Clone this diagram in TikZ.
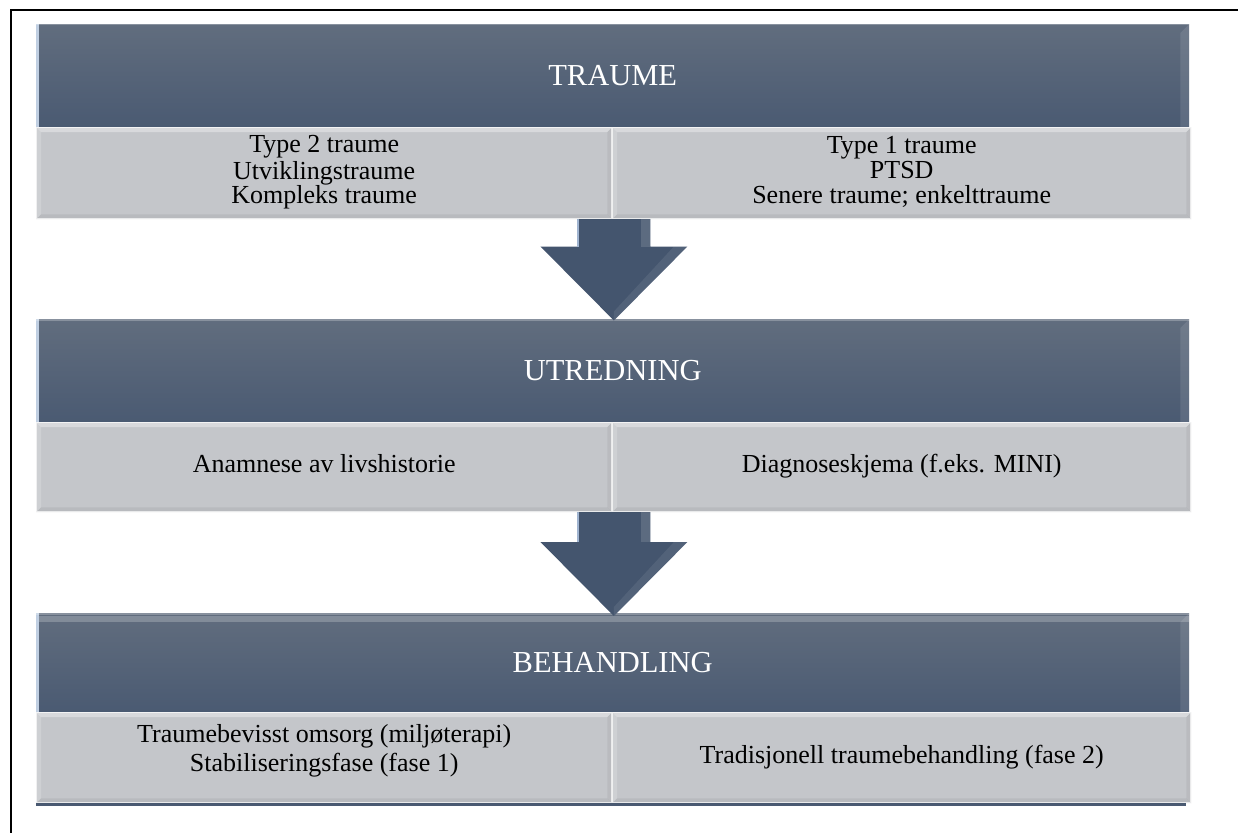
\documentclass[tikz,border=0pt]{standalone}
\usepackage{fontspec}
\setmainfont{Liberation Serif}
\usetikzlibrary{calc}
\pgfdeclarelayer{back}
\pgfdeclarelayer{mid}
\pgfsetlayers{back,mid,main}

\definecolor{barTop}{RGB}{97,109,126}
\definecolor{barBot}{RGB}{74,90,114}
\definecolor{barEdge}{RGB}{192,207,226}
\definecolor{cellFill}{RGB}{196,198,202}
\definecolor{arrowFill}{RGB}{68,85,110}
\definecolor{arrowEdge}{RGB}{160,180,208}

% block arrow from a start point (hidden under the cells) down to a tip
\newcommand\blockarrow[2]{%
  \fill[arrowFill] ($(#1)+(-36.5,0)$) -- ($(#2)+(-36.5,74)$) -- ($(#2)+(-73.5,74)$)
    -- (#2) -- ($(#2)+(73.5,74)$) -- ($(#2)+(36.5,74)$) -- ($(#1)+(36.5,0)$) -- cycle;
  \fill[arrowEdge] ($(#1)+(-36.5,0)$) rectangle ($(#2)+(-35,74)$);
  \fill[white,opacity=.13] ($(#1)+(36.5,0)$) rectangle ($(#2)+(27,74)$);
  \fill[white,opacity=.08] ($(#2)+(73.5,74)$) -- (#2) -- ($(#2)+(0,9)$) -- ($(#2)+(60,74)$) -- cycle;
}

\begin{document}
\begin{tikzpicture}[x=1pt,y=1pt,
  bar/.style={anchor=north west, minimum width=1153pt, inner sep=0pt,
    top color=barTop, bottom color=barBot, text=white,
    font=\fontsize{30.5}{33}\selectfont},
  cell/.style={anchor=north west, inner sep=0pt, fill=cellFill, align=center,
    font=\fontsize{26}{24.5}\selectfont},
  celltext/.style={inner sep=0pt, align=center, font=\fontsize{26}{29}\selectfont},
]
\useasboundingbox (0,0) rectangle (1238,-832);

% page frame
\draw[line width=2.6pt] (11,-10) rectangle (1270,-870);

% dark title bars
\begin{pgfonlayer}{back}
  \node[bar, minimum height=103pt] (b1) at (36,-24) {TRAUME};
  \node[bar, minimum height=103pt] (b2) at (36,-319) {UTREDNING};
  \node[bar, minimum height=99pt] (b3) at (36,-613) {BEHANDLING};
  \foreach \n in {b1,b2,b3}{
    \fill[barEdge] (\n.north west) rectangle ($(\n.south west)+(2.5,0)$);
    \fill[white,opacity=.10] (\n.north east) -- (\n.south east)
      -- ($(\n.south east)+(-9,0)$) -- ($(\n.north east)+(-9,-9)$) -- cycle;
    \fill[white,opacity=.25] (\n.north west) rectangle ($(\n.north east)+(0,-1.5)$);
  }
  \fill[white,opacity=.22] ($(b3.north west)+(2.5,-3)$) rectangle ($(b3.north east)+(0,-9)$);
\end{pgfonlayer}

% detail cells
\node[cell, minimum width=576pt, minimum height=92pt] (c1L) at (36,-127)
  {\strut Type 2 traume\\Utviklingstraume\\Kompleks traume\strut};
\node[cell, minimum width=579pt, minimum height=92pt] (c1R) at (612,-127)
  {\strut Type 1 traume\\PTSD\\Senere traume; enkelttraume\strut};
\node[cell, minimum width=576pt, minimum height=90pt] (c2L) at (36,-422)
  {\strut Anamnese av livshistorie};
\node[cell, minimum width=579pt, minimum height=90pt] (c2R) at (612,-422)
  {\strut Diagnoseskjema (f.eks. MINI)};
\node[cell, minimum width=576pt, minimum height=91pt] (c3L) at (36,-712) {};
\node[cell, minimum width=579pt, minimum height=91pt] (c3R) at (612,-712)
  {\strut Tradisjonell traumebehandling (fase 2)};

\foreach \n in {c1L,c1R,c2L,c2R,c3L,c3R}{
  \fill[white,opacity=.35] (\n.north west) -- (\n.north east)
    -- ($(\n.north east)+(-5,-5)$) -- ($(\n.north west)+(5,-5)$) -- cycle;
  \fill[white,opacity=.18] (\n.north west) -- ($(\n.north west)+(5,-5)$)
    -- ($(\n.south west)+(5,5)$) -- (\n.south west) -- cycle;
  \fill[black,opacity=.05] (\n.north east) -- ($(\n.north east)+(-5,-5)$)
    -- ($(\n.south east)+(-5,5)$) -- (\n.south east) -- cycle;
  \fill[black,opacity=.06] (\n.south west) -- ($(\n.south west)+(5,5)$)
    -- ($(\n.south east)+(-5,5)$) -- (\n.south east) -- cycle;
  \draw[white,opacity=.7,line width=1.2pt] ($(\n.south west)+(0.6,0.6)$) rectangle ($(\n.north east)+(-0.6,-0.6)$);
}
% two-line text of the last left cell, set a little above centre
\node[celltext] (c3Lt) at ($(c3L.center)+(0,7)$)
  {\strut Traumebevisst omsorg (miljøterapi)\\Stabiliseringsfase (fase 1)\strut};

% dark base line under the last row
\begin{pgfonlayer}{back}
  \fill[barBot] ($(c3L.south west)+(0,0.5)$) rectangle ($(c3R.south east)+(-5,-3)$);
\end{pgfonlayer}

% arrows between the stages
\begin{pgfonlayer}{mid}
  \coordinate (a1s) at ($(c1L.south east)+(1.5,14)$);
  \coordinate (a1e) at ($(a1s |- b2.north)+(0,-1.5)$);
  \blockarrow{a1s}{a1e}
  \coordinate (a2s) at ($(c2L.south east)+(1.5,14)$);
  \coordinate (a2e) at ($(a2s |- b3.north)+(0,-3)$);
  \blockarrow{a2s}{a2e}
\end{pgfonlayer}
\end{tikzpicture}
\end{document}
